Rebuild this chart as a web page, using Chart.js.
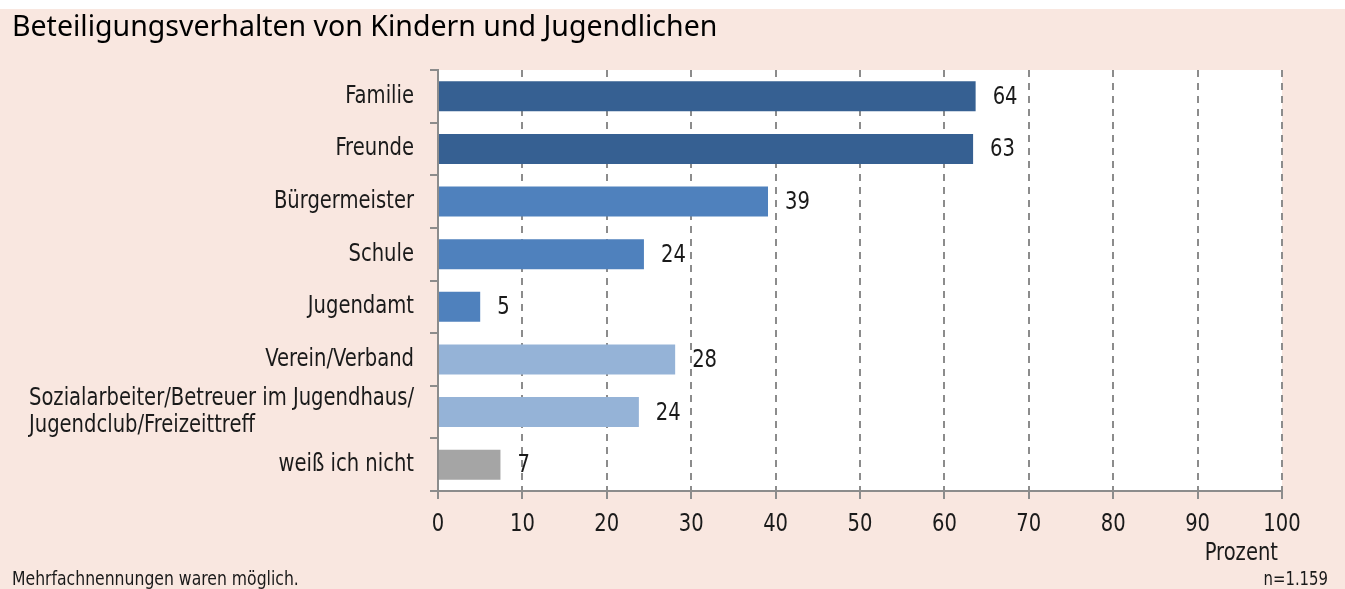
<!DOCTYPE html>
<html><head><meta charset="utf-8">
<script src="https://cdn.jsdelivr.net/npm/chart.js@4.4.1/dist/chart.umd.min.js"></script>
<style>html,body{margin:0;padding:0;background:#fff}#wrap{width:1345px;height:589px;position:relative}canvas{display:block}</style>
</head><body><div id="wrap"><canvas id="c" width="1345" height="589"></canvas></div>
<script>
const categories = ["Familie", "Freunde", "Bürgermeister", "Schule", "Jugendamt", "Verein/Verband",
  ["Sozialarbeiter/Betreuer im Jugendhaus/", "Jugendclub/Freizeittreff"], "weiß ich nicht"];
const values = [63.7, 63.4, 39.1, 24.4, 5.0, 28.1, 23.8, 7.4];
const valueLabels = ["64", "63", "39", "24", "5", "28", "24", "7"];
const barColors = ["#366092", "#366092", "#4F81BD", "#4F81BD", "#4F81BD", "#95B3D7", "#95B3D7", "#A5A5A5"];
const xTickValues = [0, 10, 20, 30, 40, 50, 60, 70, 80, 90, 100];
const xTickLabels = ["0", "10", "20", "30", "40", "50", "60", "70", "80", "90", "100"];
const titleText = "Beteiligungsverhalten von Kindern und Jugendlichen";
const axisTitle = "Prozent";
const noteLeft = "Mehrfachnennungen waren möglich.";
const noteRight = "n=1.159";

const LBL = '"DejaVu Sans Condensed", "Liberation Sans Narrow", sans-serif';
const TTL = '"Noto Sans", "Open Sans", sans-serif';
const PINK = "#F9E7E0";
const GRID = "#8c8c8c";
const SX = 0.87;

function txt(ctx, s, x, y, align, size) {
  ctx.save();
  ctx.font = size + "px " + LBL;
  ctx.textAlign = align;
  ctx.textBaseline = "middle";
  ctx.translate(x, y);
  ctx.scale(SX, 1);
  ctx.fillText(s, 0, 0);
  ctx.restore();
}
function txtW(ctx, s, size) {
  ctx.save();
  ctx.font = size + "px " + LBL;
  const w = ctx.measureText(s).width * SX;
  ctx.restore();
  return w;
}

const decor = {
  id: "decor",
  beforeDraw(chart) {
    const ctx = chart.ctx, a = chart.chartArea;
    ctx.save();
    ctx.fillStyle = "#ffffff";
    ctx.fillRect(0, 0, chart.width, chart.height);
    ctx.fillStyle = PINK;
    ctx.fillRect(0, 9, chart.width, chart.height - 9);
    ctx.fillStyle = "#ffffff";
    ctx.fillRect(a.left, a.top, a.right - a.left, a.bottom - a.top);
    ctx.restore();
  },
  afterDatasetsDraw(chart) {
    const ctx = chart.ctx;
    const meta = chart.getDatasetMeta(0);
    ctx.save();
    ctx.fillStyle = "#1a1a1a";
    meta.data.forEach((bar, i) => {
      txt(ctx, valueLabels[i], bar.x + 17, bar.y + 1, "left", 25);
    });
    ctx.restore();
  },
  afterDraw(chart) {
    const ctx = chart.ctx, a = chart.chartArea;
    const y = chart.scales.y, x = chart.scales.x;
    ctx.save();
    ctx.fillStyle = "#1a1a1a";
    // category labels
    categories.forEach((c, i) => {
      const cy = y.getPixelForValue(i);
      if (Array.isArray(c)) {
        let maxW = 0;
        c.forEach(l => { maxW = Math.max(maxW, txtW(ctx, l, 25)); });
        const x0 = a.left - 24 - maxW;
        const lh = 27;
        c.forEach((l, k) => {
          txt(ctx, l, x0, cy + (k - (c.length - 1) / 2) * lh, "left", 25);
        });
      } else {
        txt(ctx, c, a.left - 24, cy, "right", 25);
      }
    });
    // x tick labels
    xTickValues.forEach((v, i) => {
      txt(ctx, xTickLabels[i], x.getPixelForValue(v), 524, "center", 25);
    });
    // title
    ctx.font = "28.5px " + TTL;
    ctx.textAlign = "left";
    ctx.textBaseline = "alphabetic";
    ctx.fillStyle = "#000000";
    ctx.fillText(titleText, 12, 36);
    ctx.fillStyle = "#1a1a1a";
    txt(ctx, axisTitle, 1278, 553, "right", 25);
    txt(ctx, noteRight, 1328, 580, "right", 19);
    txt(ctx, noteLeft, 12, 580, "left", 20);
    ctx.restore();
  }
};

new Chart(document.getElementById("c"), {
  type: "bar",
  data: {
    labels: categories,
    datasets: [{
      data: values,
      backgroundColor: barColors,
      borderWidth: 0,
      barPercentage: 0.57,
      categoryPercentage: 1
    }]
  },
  options: {
    indexAxis: "y",
    responsive: false,
    devicePixelRatio: 1,
    animation: false,
    layout: { padding: { top: 70, right: 63, left: 0, bottom: 0 } },
    plugins: { legend: { display: false }, tooltip: { enabled: false }, title: { display: false } },
    scales: {
      x: {
        type: "linear",
        min: 0, max: 100,
        afterBuildTicks: s => { s.ticks = xTickValues.map(v => ({ value: v })); },
        afterFit: s => { s.height = 98; },
        ticks: { display: false },
        grid: { display: true, drawOnChartArea: true, drawTicks: true, tickLength: 8, color: GRID, lineWidth: 2, tickColor: GRID, tickWidth: 2 },
        border: { display: true, color: GRID, width: 2, dash: [7, 6] }
      },
      y: {
        type: "category",
        afterFit: s => { s.width = 438; },
        ticks: { display: false },
        grid: { display: true, offset: true, drawOnChartArea: false, drawTicks: true, tickLength: 8, color: GRID, lineWidth: 2 },
        border: { display: true, color: GRID, width: 2 }
      }
    }
  },
  plugins: [decor]
});
</script>
</body></html>
